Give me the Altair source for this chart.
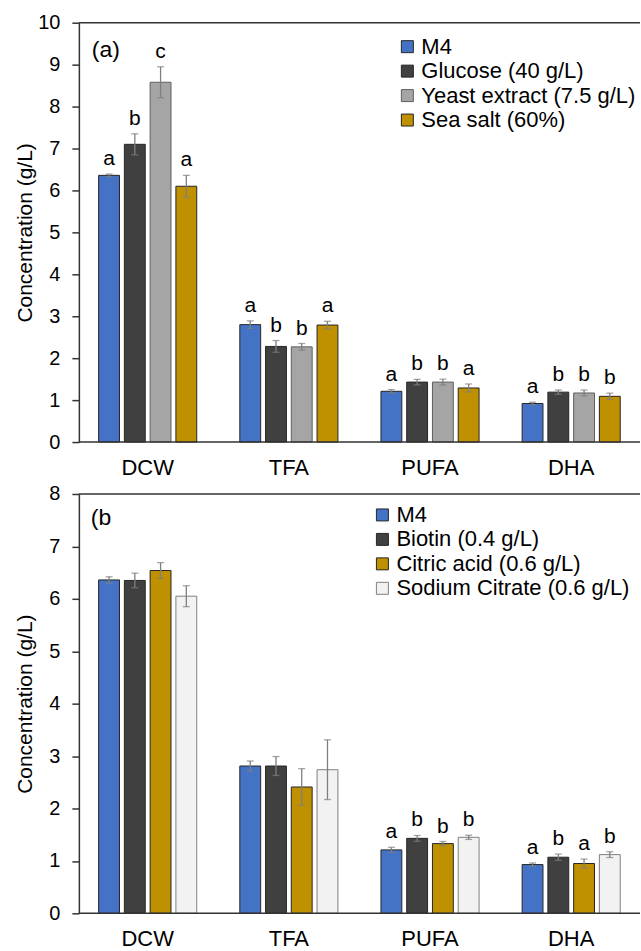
import altair as alt
import pandas as pd

FONT = "Liberation Sans"

categories = ["DCW", "TFA", "PUFA", "DHA"]

# ---- panel (a) ----
series_a = ["M4", "Glucose (40 g/L)", "Yeast extract (7.5 g/L)", "Sea salt (60%)"]
colors_a = ["#4472C4", "#404040", "#A5A5A5", "#BF9000"]
strokes_a = ["#262626", "#262626", "#5f5f5f", "#262626"]
vals_a = {
    "M4": [6.36, 2.80, 1.21, 0.92],
    "Glucose (40 g/L)": [7.10, 2.28, 1.43, 1.19],
    "Yeast extract (7.5 g/L)": [8.58, 2.27, 1.43, 1.17],
    "Sea salt (60%)": [6.10, 2.79, 1.29, 1.09],
}
errs_a = {
    "M4": [0.03, 0.09, 0.04, 0.03],
    "Glucose (40 g/L)": [0.25, 0.14, 0.065, 0.05],
    "Yeast extract (7.5 g/L)": [0.37, 0.08, 0.07, 0.07],
    "Sea salt (60%)": [0.26, 0.09, 0.095, 0.075],
}
letters_a = {
    "M4": ["a", "a", "a", "a"],
    "Glucose (40 g/L)": ["b", "b", "b", "b"],
    "Yeast extract (7.5 g/L)": ["c", "b", "b", "b"],
    "Sea salt (60%)": ["a", "a", "a", "b"],
}

# ---- panel (b) ----
series_b = ["M4", "Biotin (0.4 g/L)", "Citric acid (0.6 g/L)", "Sodium Citrate (0.6 g/L)"]
colors_b = ["#4472C4", "#404040", "#BF9000", "#F2F2F2"]
strokes_b = ["#262626", "#262626", "#262626", "#7f7f7f"]
vals_b = {
    "M4": [6.36, 2.81, 1.21, 0.93],
    "Biotin (0.4 g/L)": [6.35, 2.81, 1.43, 1.07],
    "Citric acid (0.6 g/L)": [6.54, 2.41, 1.33, 0.95],
    "Sodium Citrate (0.6 g/L)": [6.05, 2.74, 1.45, 1.12],
}
errs_b = {
    "M4": [0.06, 0.095, 0.05, 0.03],
    "Biotin (0.4 g/L)": [0.14, 0.18, 0.055, 0.06],
    "Citric acid (0.6 g/L)": [0.15, 0.35, 0.04, 0.085],
    "Sodium Citrate (0.6 g/L)": [0.20, 0.57, 0.04, 0.055],
}
letters_b = {
    "M4": ["", "", "a", "a"],
    "Biotin (0.4 g/L)": ["", "", "b", "b"],
    "Citric acid (0.6 g/L)": ["", "", "b", "a"],
    "Sodium Citrate (0.6 g/L)": ["", "", "b", "b"],
}


def make_df(series, vals, errs, letters):
    rows = []
    for s in series:
        for i, c in enumerate(categories):
            v, e = vals[s][i], errs[s][i]
            rows.append(dict(cat=c, series=s, val=v, lo=v - e, hi=v + e, letter=letters[s][i]))
    return pd.DataFrame(rows)


W, H = 562, 420
AXIS_COLOR = "#333333"


def panel(df, series, colors, strokes, ymax, label, lx, ly, tx, ty):
    x = alt.X(
        "cat:N", sort=categories,
        scale=alt.Scale(paddingInner=0.305, paddingOuter=0.14),
        axis=alt.Axis(title=None, labelAngle=0, domain=False, ticks=False,
                      labelPadding=15, labelFontSize=22, labelColor="#000",
                      labelFont=FONT),
    )
    xo = alt.XOffset("series:N", sort=series,
                     scale=alt.Scale(domain=series, paddingInner=0.19, paddingOuter=0))
    y = alt.Y(
        "val:Q",
        scale=alt.Scale(domain=[0, ymax], nice=False, zero=True),
        axis=alt.Axis(title="Concentration (g/L)", values=list(range(ymax + 1)),
                      grid=False, tickSize=7, tickColor=AXIS_COLOR, tickWidth=1.5,
                      domainColor=AXIS_COLOR, domainWidth=1.5,
                      labelPadding=12, labelFontSize=20, labelColor="#000",
                      labelFont=FONT, titleFont=FONT, titleFontSize=21,
                      titleFontWeight="normal", titleColor="#000",
                      titleX=-43, titleY=H / 2),
    )
    base = alt.Chart(df)
    bars = base.mark_bar(strokeWidth=1).encode(
        x=x, xOffset=xo, y=y,
        fill=alt.Fill("series:N", sort=series,
                      scale=alt.Scale(domain=series, range=colors),
                      legend=alt.Legend(title=None, orient="none", legendX=lx, legendY=ly,
                                        symbolType="square", symbolSize=144,
                                        symbolStrokeColor="#404040", symbolStrokeWidth=1,
                                        labelFontSize=22, labelFont=FONT, labelColor="#000",
                                        labelOffset=3, rowPadding=2.5, padding=0,
                                        labelLimit=400)),
        stroke=alt.Stroke("series:N", scale=alt.Scale(domain=series, range=strokes),
                          legend=None),
    )
    err = base.mark_rule(color="#7f7f7f", strokeWidth=1.3).encode(
        x=x, xOffset=xo, y="lo:Q", y2="hi:Q")
    cap_hi = base.mark_tick(color="#7f7f7f", thickness=1.3, size=7).encode(
        x=x, xOffset=xo, y="hi:Q")
    cap_lo = base.mark_tick(color="#7f7f7f", thickness=1.3, size=7).encode(
        x=x, xOffset=xo, y="lo:Q")
    txt = base.transform_filter("datum.letter != ''").mark_text(
        fontSize=21, font=FONT, color="#000", dy=-9, baseline="alphabetic").encode(
        x=x, xOffset=xo, y="hi:Q", text="letter:N")
    frame = alt.Chart(pd.DataFrame({"v": [0, ymax]})).mark_rule(
        color=AXIS_COLOR, strokeWidth=1.5).encode(y="v:Q")
    lab = alt.Chart(pd.DataFrame({"t": [label]})).mark_text(
        fontSize=23, font=FONT, color="#000", align="left", baseline="middle").encode(
        x=alt.value(tx), y=alt.value(ty), text="t:N")
    return alt.layer(bars, err, cap_hi, cap_lo, txt, frame, lab).properties(width=W, height=H)


top = panel(make_df(series_a, vals_a, errs_a, letters_a), series_a, colors_a, strokes_a,
            10, "(a)", 318, 13, 13, 27)
bottom = panel(make_df(series_b, vals_b, errs_b, letters_b), series_b, colors_b, strokes_b,
               8, "(b", 293, 10, 12, 24)

chart = alt.vconcat(top, bottom, spacing=6).resolve_scale(
    fill="independent", stroke="independent", xOffset="independent"
).properties(
    padding={"left": 15, "top": 12, "right": 0, "bottom": 0}
).configure_view(stroke=None)

chart.save("out.html", embed_options={"renderer": "svg", "actions": False})
